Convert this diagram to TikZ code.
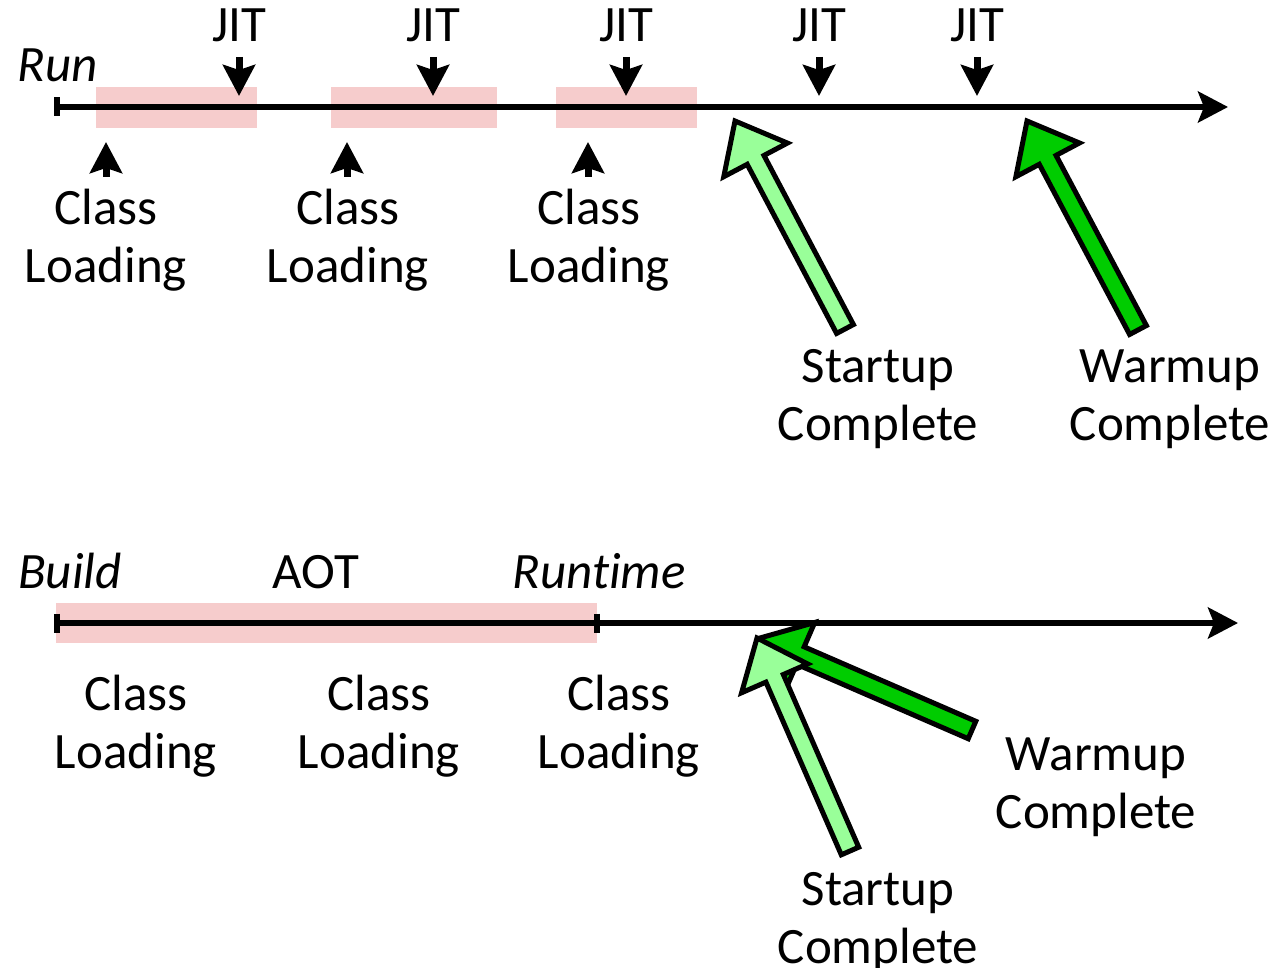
\documentclass[tikz,border=0pt]{standalone}
\usepackage{fontspec}
\setmainfont{Carlito}[Ligatures=NoCommon]
\usetikzlibrary{arrows.meta,calc}
\definecolor{loadpink}{RGB}{246,204,204}
\definecolor{startgreen}{RGB}{153,255,153}
\definecolor{warmgreen}{RGB}{0,204,0}

% Fat outlined arrow from #1 (tail) to #2 (tip), drawn with style #3
\newcommand\fatarrow[3]{%
  \path ($(#2)!44pt!(#1)$) coordinate (fa-base);
  \draw[#3]
    ($(#1)!9.5pt!90:(#2)$) -- ($(fa-base)!9.5pt!90:(#2)$) --
    ($(fa-base)!36pt!90:(#2)$) -- (#2) --
    ($(fa-base)!36pt!-90:(#2)$) -- ($(fa-base)!9.5pt!-90:(#2)$) --
    ($(#1)!9.5pt!-90:(#2)$) -- cycle;
}

\begin{document}
\begin{tikzpicture}[x=1pt,y=-1pt,
  txt/.style={font=\fontsize{51}{58}\selectfont, inner sep=0pt, align=center, anchor=base},
  phase/.style={txt, font=\fontsize{51}{58}\selectfont\itshape},
  timeline/.style={line width=5.5pt, -{Stealth[length=30pt,width=31pt,inset=6pt]}},
  tickmark/.style={line width=6pt},
  band/.style={fill=loadpink, draw=none},
  cue/.style={line width=7pt, -{Stealth[length=31pt,width=32pt,inset=5pt]}},
  block/.style={line width=5pt, line join=miter, draw=black}]
\useasboundingbox (0,0) rectangle (1276,968);

% ---------------- JIT run ----------------
\fill[band] (96,87) rectangle (257,128);
\fill[band] (331,87) rectangle (497,128);
\fill[band] (556,87) rectangle (697,128);

\coordinate (r0) at (57,107);
\coordinate (r1) at (1228,107);
\draw[timeline] (r0) -- (r1);
\draw[tickmark] ($(r0)+(0,-9.5)$) -- ($(r0)+(0,9.5)$);

\node[phase] (run) at (58,82) {Run};

\foreach \i/\x in {1/239,2/433,3/626,4/819,5/977}{
  \node[txt] (jit\i) at (\x,42) {JIT};
  \coordinate (jita\i) at (\x,57);
  \coordinate (jitb\i) at (\x,96);
  \draw[cue] (jita\i) -- (jitb\i);
}

\foreach \i/\x in {1/106,2/347,3/588}{
  \coordinate (cla\i) at (\x,177);
  \coordinate (clb\i) at (\x,142);
  \draw[cue] (cla\i) -- (clb\i);
}
\node[txt] (cl1) at (106,282) {Class\\Loading};
\node[txt] (cl2) at (348,282) {Class\\Loading};
\node[txt] (cl3) at (589,282) {Class\\Loading};

\coordinate (st1tail) at (845,329);
\coordinate (st1tip) at (735,121);
\coordinate (wu1tail) at (1138,330);
\coordinate (wu1tip) at (1027,121);
\fatarrow{st1tail}{st1tip}{block, fill=startgreen}
\fatarrow{wu1tail}{wu1tip}{block, fill=warmgreen}

\node[txt] (st1) at (878,440) {Startup\\Complete};
\node[txt] (wu1) at (1170,440) {Warmup\\Complete};

% ---------------- AOT build ----------------
\fill[band] (56,603) rectangle (597,643);
\coordinate (b0) at (57,623);
\coordinate (bm) at (597,623);
\coordinate (b1) at (1238,623);
\draw[timeline] (b0) -- (b1);
\draw[tickmark] ($(b0)+(0,-9.5)$) -- ($(b0)+(0,9.5)$);
\draw[tickmark] ($(bm)+(0,-9.5)$) -- ($(bm)+(0,9.5)$);

\node[phase] (build) at (70,588) {Build};
\node[txt] (aot) at (316,588) {AOT};
\node[phase] (runtime) at (599,588) {Runtime};

\node[txt] (cl4) at (136,768) {Class\\Loading};
\node[txt] (cl5) at (379,768) {Class\\Loading};
\node[txt] (cl6) at (619,768) {Class\\Loading};

\coordinate (wu2tail) at (972,730);
\coordinate (wu2tip) at (760,638);
\coordinate (st2tail) at (850,851);
\coordinate (st2tip) at (757,638);
\fatarrow{wu2tail}{wu2tip}{block, fill=warmgreen}
\fatarrow{st2tail}{st2tip}{block, fill=startgreen}

\node[txt] (wu2) at (1096,828) {Warmup\\Complete};
\node[txt] (st2) at (878,963) {Startup\\Complete};
\end{tikzpicture}
\end{document}
